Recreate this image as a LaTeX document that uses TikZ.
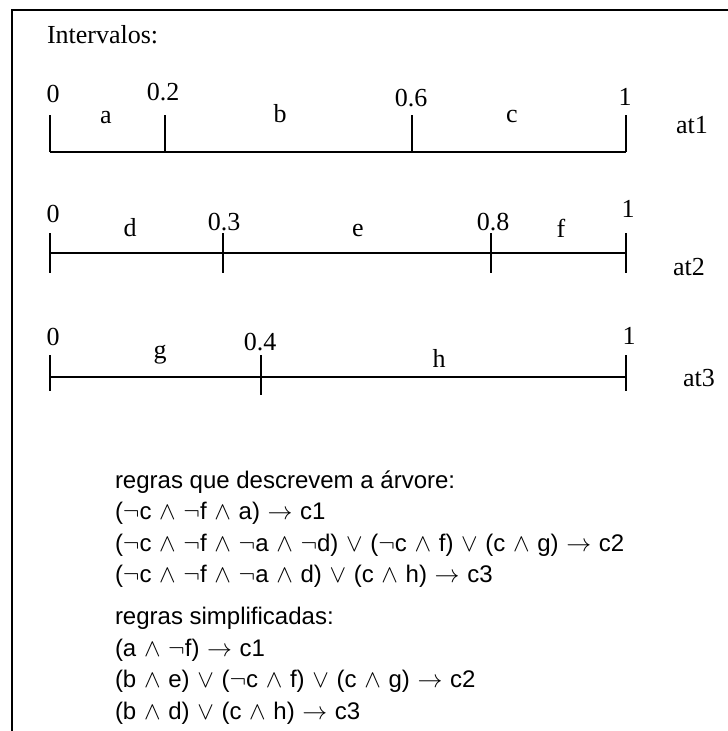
\documentclass[tikz,border=0pt]{standalone}
\usepackage{fontspec}
\setmainfont{Liberation Serif}
\setsansfont{Liberation Sans}
\usetikzlibrary{calc}
\newcommand{\opneg}{\(\neg\)}
\newcommand{\opand}{\kern1pt\(\wedge\)\kern1pt}
\newcommand{\opor}{\kern1pt\(\vee\)\kern1pt}
\newcommand{\opto}{\kern1pt\(\rightarrow\)\kern1pt}

\begin{document}
\begin{tikzpicture}[x=1pt,y=-1pt,
  every node/.style={inner sep=0pt,outer sep=0pt},
  lbl/.style={font=\fontsize{26}{26}\selectfont,anchor=base},
  rulelbl/.style={font=\sffamily\fontsize{24}{24}\selectfont,anchor=base west},
  axis/.style={line width=1.6pt},
  tickmark/.style={line width=1.4pt}]
  \useasboundingbox (0,0) rectangle (728,731);
  % frame, cut off at right and bottom
  \draw[line width=1.6pt] (12,731) -- (12,10) -- (728,10);
  \node[lbl,anchor=base west] (title) at (47,43) {Intervalos:};

  % at1
  \coordinate (a0) at (50,152);
  \coordinate (a2) at (165,152);
  \coordinate (a6) at (412,152);
  \coordinate (a1) at (626,152);
  \draw[axis] (a0) -- (a1);
  \draw[tickmark] (a0) -- ++(0,-37);
  \draw[tickmark] (a2) -- ++(0,-37);
  \draw[tickmark] (a6) -- ++(0,-37);
  \draw[tickmark] (a1) -- ++(0,-37);
  \node[lbl] (a0l) at (53,102) {0};
  \node[lbl] (al) at (106,123) {a};
  \node[lbl] (a2l) at (163,100) {0.2};
  \node[lbl] (bl) at (280,122) {b};
  \node[lbl] (a6l) at (411,106) {0.6};
  \node[lbl] (cl) at (512,122) {c};
  \node[lbl] (a1l) at (625,105) {1};
  \node[lbl,anchor=base west] (at1) at (676,133) {at1};

  % at2
  \coordinate (b0) at (50,253);
  \coordinate (b3) at (223,253);
  \coordinate (b8) at (491,253);
  \coordinate (b1) at (626,253);
  \draw[axis] (b0) -- (b1);
  \draw[tickmark] ($(b0)+(0,-20)$) -- ++(0,40);
  \draw[tickmark] ($(b3)+(0,-20)$) -- ++(0,40);
  \draw[tickmark] ($(b8)+(0,-20)$) -- ++(0,40);
  \draw[tickmark] ($(b1)+(0,-20)$) -- ++(0,40);
  \node[lbl] (b0l) at (53,222) {0};
  \node[lbl] (dl) at (130,236) {d};
  \node[lbl] (b3l) at (224,230) {0.3};
  \node[lbl] (el) at (358,236) {e};
  \node[lbl] (b8l) at (493,230) {0.8};
  \node[lbl] (fl) at (561,237) {f};
  \node[lbl] (b1l) at (628,217) {1};
  \node[lbl,anchor=base west] (at2) at (673,275) {at2};

  % at3
  \coordinate (c0) at (50,377);
  \coordinate (c4) at (261,377);
  \coordinate (c1) at (626,377);
  \draw[axis] (c0) -- (c1);
  \draw[tickmark] ($(c0)+(0,-22)$) -- ++(0,36);
  \draw[tickmark] ($(c4)+(0,-22)$) -- ++(0,40);
  \draw[tickmark] ($(c1)+(0,-22)$) -- ++(0,36);
  \node[lbl] (c0l) at (53,345) {0};
  \node[lbl] (gl) at (160,358) {g};
  \node[lbl] (c4l) at (260,350) {0.4};
  \node[lbl] (hl) at (439,367) {h};
  \node[lbl] (c1l) at (629,344) {1};
  \node[lbl,anchor=base west] (at3) at (683,386) {at3};

  % rules
  \node[rulelbl] (r0) at (115,488) {regras que descrevem a árvore:};
  \node[rulelbl] (r1) at (115,519.5) {(\opneg c \opand{} \opneg f \opand{} a) \opto{} c1};
  \node[rulelbl] (r2) at (115,551) {(\opneg c \opand{} \opneg f \opand{} \opneg a \opand{} \opneg d) \opor{} (\opneg c \opand{} f) \opor{} (c \opand{} g) \opto{} c2};
  \node[rulelbl] (r3) at (115,582.5) {(\opneg c \opand{} \opneg f \opand{} \opneg a \opand{} d) \opor{} (c \opand{} h) \opto{} c3};

  \node[rulelbl] (s0) at (115,624.5) {regras simplificadas:};
  \node[rulelbl] (s1) at (115,656) {(a \opand{} \opneg f) \opto{} c1};
  \node[rulelbl] (s2) at (115,687.5) {(b \opand{} e) \opor{} (\opneg c \opand{} f) \opor{} (c \opand{} g) \opto{} c2};
  \node[rulelbl] (s3) at (115,719) {(b \opand{} d) \opor{} (c \opand{} h) \opto{} c3};
\end{tikzpicture}
\end{document}
